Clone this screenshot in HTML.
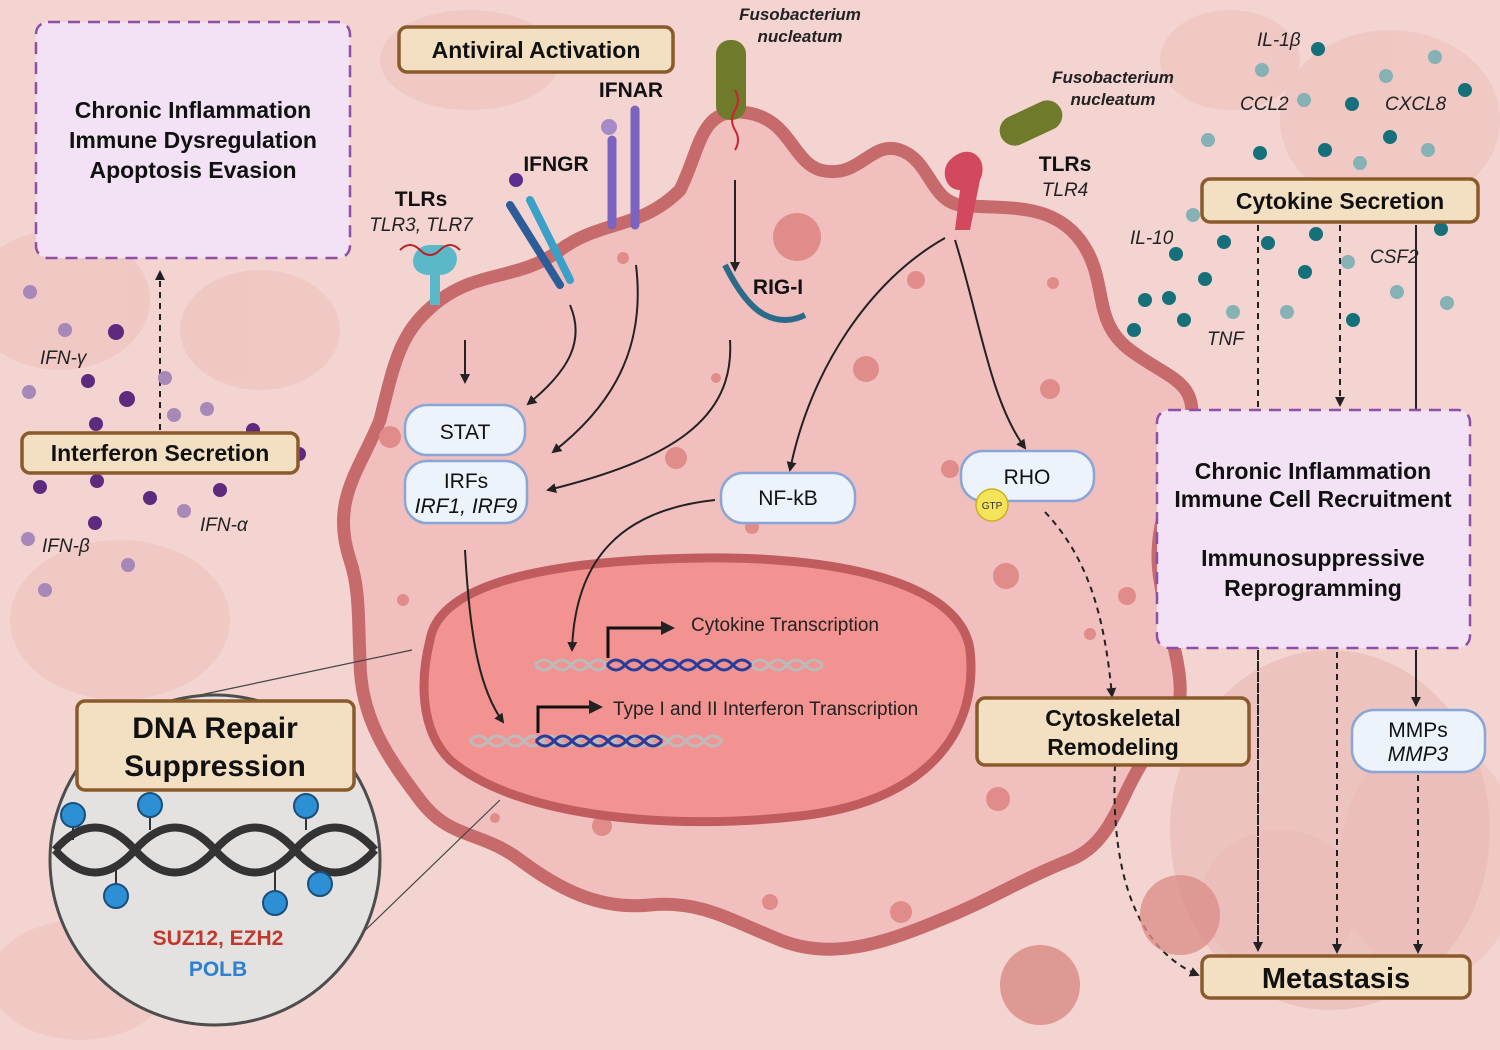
<!DOCTYPE html>
<html><head><meta charset="utf-8"><style>
html,body{margin:0;padding:0;width:1500px;height:1050px;overflow:hidden;background:#f3d6d2}
svg{display:block}
text{font-family:"Liberation Sans",Arial,sans-serif}
</style></head><body>
<svg width="1500" height="1050" viewBox="0 0 1500 1050" xmlns="http://www.w3.org/2000/svg">
<defs>
<marker id="ah" markerWidth="10" markerHeight="10" refX="8" refY="5" orient="auto" markerUnits="userSpaceOnUse"><path d="M0,0 L10,5 L0,10 z" fill="#222"/></marker>
<marker id="ah2" markerWidth="14" markerHeight="14" refX="11" refY="7" orient="auto" markerUnits="userSpaceOnUse"><path d="M0,0 L14,7 L0,14 z" fill="#222"/></marker>
</defs>
<!-- background texture -->
<rect width="1500" height="1050" fill="#f3d4d0"/>
<g fill="#eec4c0" opacity="0.7">
<ellipse cx="120" cy="620" rx="110" ry="80"/><ellipse cx="60" cy="300" rx="90" ry="70"/><ellipse cx="260" cy="330" rx="80" ry="60"/>
<ellipse cx="1390" cy="120" rx="110" ry="90"/><ellipse cx="1430" cy="860" rx="90" ry="120"/><ellipse cx="1280" cy="900" rx="80" ry="70"/>
<ellipse cx="1230" cy="60" rx="70" ry="50"/><ellipse cx="80" cy="980" rx="90" ry="60"/><ellipse cx="470" cy="60" rx="90" ry="50"/>
</g>
<ellipse cx="1330" cy="830" rx="160" ry="180" fill="#e8b8b4" opacity="0.6"/>
<!-- cell -->
<path d="M350,560 C330,500 360,470 380,420 C395,360 400,330 440,300 C480,270 520,280 560,250 C600,220 640,230 680,190 C700,150 700,110 740,112 C790,115 790,160 820,170 C860,180 870,140 900,150 C930,160 930,200 960,205 C1000,210 1050,200 1080,240 C1110,280 1090,320 1130,350 C1170,380 1200,380 1190,430 C1180,480 1150,520 1160,580 C1170,650 1200,700 1160,740 C1120,780 1120,840 1070,860 C1020,880 990,900 940,920 C880,945 830,960 780,940 C730,920 700,900 650,905 C600,910 560,890 520,860 C480,830 450,840 420,800 C390,760 360,720 360,660 C358,620 360,590 350,560 Z" fill="#f0bfbe" stroke="#c76a6c" stroke-width="13"/>
<!-- vesicles -->
<g fill="#e08c8a">
<circle cx="797" cy="237" r="24"/><circle cx="916" cy="280" r="9"/><circle cx="866" cy="369" r="13"/><circle cx="1050" cy="389" r="10"/><circle cx="1053" cy="283" r="6"/>
<circle cx="390" cy="437" r="11"/><circle cx="676" cy="458" r="11"/><circle cx="716" cy="378" r="5"/><circle cx="623" cy="258" r="6"/>
<circle cx="950" cy="469" r="9"/><circle cx="1006" cy="576" r="13"/><circle cx="1127" cy="596" r="9"/><circle cx="1090" cy="634" r="6"/>
<circle cx="998" cy="799" r="12"/><circle cx="901" cy="912" r="11"/><circle cx="770" cy="902" r="8"/><circle cx="602" cy="826" r="10"/><circle cx="403" cy="600" r="6"/><circle cx="495" cy="818" r="5"/><circle cx="752" cy="527" r="7"/>
</g>
<!-- nucleus -->
<path d="M430,640 C440,580 560,560 700,558 C830,556 960,580 970,650 C978,720 940,800 800,816 C680,830 520,820 450,760 C420,730 420,680 430,640 Z" fill="#f29391" stroke="#c05c5e" stroke-width="9"/>
<!-- DNA strands in nucleus -->
<g stroke-width="3" fill="none">
<path d="M535,665 q9,-10 18,0 t18,0 t18,0 t18,0 t18,0 t18,0 t18,0 t18,0 t18,0 t18,0 t18,0 t18,0 t18,0 t18,0 t18,0 t18,0" stroke="#bbb"/>
<path d="M535,665 q9,10 18,0 t18,0 t18,0 t18,0 t18,0 t18,0 t18,0 t18,0 t18,0 t18,0 t18,0 t18,0 t18,0 t18,0 t18,0 t18,0" stroke="#bbb"/>
<path d="M607,665 q9,-10 18,0 t18,0 t18,0 t18,0 t18,0 t18,0 t18,0 t18,0" stroke="#2a3c9a"/>
<path d="M607,665 q9,10 18,0 t18,0 t18,0 t18,0 t18,0 t18,0 t18,0 t18,0" stroke="#2a3c9a"/>
<path d="M470,741 q9,-10 18,0 t18,0 t18,0 t18,0 t18,0 t18,0 t18,0 t18,0 t18,0 t18,0 t18,0 t18,0 t18,0 t18,0" stroke="#bbb"/>
<path d="M470,741 q9,10 18,0 t18,0 t18,0 t18,0 t18,0 t18,0 t18,0 t18,0 t18,0 t18,0 t18,0 t18,0 t18,0 t18,0" stroke="#bbb"/>
<path d="M536,741 q9,-10 18,0 t18,0 t18,0 t18,0 t18,0 t18,0 t18,0" stroke="#2a3c9a"/>
<path d="M536,741 q9,10 18,0 t18,0 t18,0 t18,0 t18,0 t18,0 t18,0" stroke="#2a3c9a"/>
</g>
<path d="M608,658 V628 H672" stroke="#111" stroke-width="3" fill="none" marker-end="url(#ah2)"/>
<path d="M538,733 V707 H600" stroke="#111" stroke-width="3" fill="none" marker-end="url(#ah2)"/>
<text x="691" y="631" font-size="19" fill="#222">Cytokine Transcription</text>
<text x="613" y="715" font-size="19" fill="#222">Type I and II Interferon Transcription</text>
<!-- receptors -->
<g>
<rect x="716" y="40" width="30" height="80" rx="14" fill="#6f7a2a"/>
<rect x="998" y="108" width="66" height="30" rx="15" fill="#6f7a2a" transform="rotate(-25 1031 123)"/>
<path d="M735,90 q6,10 0,20 t0,20 t0,20" stroke="#c23" stroke-width="2" fill="none"/>
<path d="M430,245 c-20,0 -25,30 0,30 v30 h10 v-30 c20,0 25,-30 0,-30z" fill="#5bb8c8"/>
<path d="M400,250 q10,-10 20,0 t20,0 t20,0" stroke="#b22" stroke-width="2" fill="none"/>
<g stroke-width="8" stroke-linecap="round"><path d="M510,205 L560,285" stroke="#2d5d99"/><path d="M530,200 L570,280" stroke="#3aa0c7"/></g>
<g stroke-width="9" stroke-linecap="round" stroke="#7b63c0"><path d="M612,140 V225"/><path d="M635,110 V225"/></g>
<circle cx="516" cy="180" r="7" fill="#5b2d8e"/><circle cx="609" cy="127" r="8" fill="#a68ac8"/>
<path d="M950,160 c20,-20 40,0 30,20 l-10,50 h-15 l5,-40 c-15,0 -20,-20 -10,-30z" fill="#d2485e"/>
<path d="M725,265 q20,40 40,50 q20,10 40,0" stroke="#2c6a8a" stroke-width="6" fill="none"/>
</g>
<!-- arrows inside cell -->
<g stroke="#222" stroke-width="2" fill="none">
<path d="M465,340 V382" marker-end="url(#ah)"/>
<path d="M570,305 C585,340 570,370 528,404" marker-end="url(#ah)"/>
<path d="M636,265 C645,340 620,400 553,452" marker-end="url(#ah)"/>
<path d="M730,340 C735,420 670,460 548,490" marker-end="url(#ah)"/>
<path d="M735,180 V270" marker-end="url(#ah)"/>
<path d="M945,238 C870,280 810,370 790,470" marker-end="url(#ah)"/>
<path d="M955,240 C980,320 990,400 1025,448" marker-end="url(#ah)"/>
<path d="M715,500 C620,510 575,560 572,650" marker-end="url(#ah)"/>
<path d="M465,550 C470,640 480,690 503,722" marker-end="url(#ah)"/>
<path d="M1045,512 C1090,560 1105,620 1112,696" stroke-dasharray="6,5" marker-end="url(#ah)"/>
<path d="M1115,765 C1110,880 1140,950 1198,975" stroke-dasharray="6,5" marker-end="url(#ah)"/>
<path d="M160,430 V272" stroke-dasharray="6,5" marker-end="url(#ah)"/>
<path d="M1258,225 V950" stroke-dasharray="6,5" marker-end="url(#ah)"/>
<path d="M1340,225 V405" stroke-dasharray="6,5" marker-end="url(#ah)"/>
<path d="M1416,225 V410"/>
<path d="M1258,650 V950" stroke-dasharray="6,5"/>
<path d="M1337,652 V952" stroke-dasharray="6,5" marker-end="url(#ah)"/>
<path d="M1416,650 V705" marker-end="url(#ah)"/>
<path d="M1418,775 V952" stroke-dasharray="6,5" marker-end="url(#ah)"/>
</g>
<!-- cytokine dots left -->
<g fill="#5e2a7e">
<circle cx="116" cy="332" r="8"/><circle cx="88" cy="381" r="7"/><circle cx="127" cy="399" r="8"/><circle cx="96" cy="424" r="7"/><circle cx="253" cy="430" r="7"/>
<circle cx="40" cy="487" r="7"/><circle cx="97" cy="481" r="7"/><circle cx="150" cy="498" r="7"/><circle cx="220" cy="490" r="7"/><circle cx="95" cy="523" r="7"/><circle cx="299" cy="454" r="7"/>
</g>
<g fill="#a788b8">
<circle cx="30" cy="292" r="7"/><circle cx="65" cy="330" r="7"/><circle cx="29" cy="392" r="7"/><circle cx="165" cy="378" r="7"/><circle cx="174" cy="415" r="7"/><circle cx="207" cy="409" r="7"/>
<circle cx="28" cy="539" r="7"/><circle cx="184" cy="511" r="7"/><circle cx="128" cy="565" r="7"/><circle cx="45" cy="590" r="7"/>
</g>
<!-- teal dots right -->
<g fill="#15707a">
<circle cx="1318" cy="49" r="7"/><circle cx="1465" cy="90" r="7"/><circle cx="1352" cy="104" r="7"/><circle cx="1390" cy="137" r="7"/><circle cx="1325" cy="150" r="7"/><circle cx="1260" cy="153" r="7"/>
<circle cx="1224" cy="242" r="7"/><circle cx="1268" cy="243" r="7"/><circle cx="1176" cy="254" r="7"/><circle cx="1205" cy="279" r="7"/><circle cx="1305" cy="272" r="7"/><circle cx="1145" cy="300" r="7"/>
<circle cx="1169" cy="298" r="7"/><circle cx="1184" cy="320" r="7"/><circle cx="1134" cy="330" r="7"/><circle cx="1353" cy="320" r="7"/><circle cx="1316" cy="234" r="7"/><circle cx="1441" cy="229" r="7"/>
</g>
<g fill="#86b1b5">
<circle cx="1435" cy="57" r="7"/><circle cx="1262" cy="70" r="7"/><circle cx="1386" cy="76" r="7"/><circle cx="1304" cy="100" r="7"/><circle cx="1208" cy="140" r="7"/><circle cx="1428" cy="150" r="7"/>
<circle cx="1360" cy="163" r="7"/><circle cx="1193" cy="215" r="7"/><circle cx="1348" cy="262" r="7"/><circle cx="1397" cy="292" r="7"/><circle cx="1447" cy="303" r="7"/><circle cx="1287" cy="312" r="7"/><circle cx="1233" cy="312" r="7"/>
</g>
<!-- circle inset -->
<line x1="200" y1="695" x2="412" y2="650" stroke="#444" stroke-width="1.2"/>
<line x1="350" y1="945" x2="500" y2="800" stroke="#444" stroke-width="1.2"/>
<circle cx="215" cy="860" r="165" fill="#e4e1e1" stroke="#4d4d4d" stroke-width="3"/>
<g stroke="#333" stroke-width="8" fill="none">
<path d="M55,850 q40,-45 80,0 t80,0 t80,0 t80,0"/>
<path d="M55,850 q40,45 80,0 t80,0 t80,0 t80,0"/>
</g>
<g stroke="#333" stroke-width="2"><line x1="150" y1="830" x2="150" y2="805"/><line x1="73" y1="840" x2="73" y2="817"/><line x1="306" y1="830" x2="306" y2="808"/><line x1="116" y1="870" x2="116" y2="895"/><line x1="275" y1="870" x2="275" y2="902"/><line x1="320" y1="865" x2="320" y2="884"/></g>
<g fill="#2d8fd4" stroke="#1a4f7a" stroke-width="2">
<circle cx="73" cy="815" r="12"/><circle cx="150" cy="805" r="12"/><circle cx="306" cy="806" r="12"/><circle cx="116" cy="896" r="12"/><circle cx="275" cy="903" r="12"/><circle cx="320" cy="884" r="12"/>
</g>
<text x="218" y="945" font-size="21" font-weight="bold" fill="#c0392b" text-anchor="middle">SUZ12, EZH2</text>
<text x="218" y="976" font-size="21" font-weight="bold" fill="#2d7fd0" text-anchor="middle">POLB</text>
<!-- lavender dashed boxes -->
<rect x="36" y="22" width="314" height="236" rx="12" fill="#f3e2f6" stroke="#8e4fa6" stroke-width="2.5" stroke-dasharray="12,8"/>
<text font-size="23" font-weight="bold" fill="#111" text-anchor="middle"><tspan x="193" y="118">Chronic Inflammation</tspan><tspan x="193" y="148">Immune Dysregulation</tspan><tspan x="193" y="178">Apoptosis Evasion</tspan></text>
<rect x="1157" y="410" width="313" height="238" rx="12" fill="#f3e2f6" stroke="#8e4fa6" stroke-width="2.5" stroke-dasharray="12,8"/>
<text font-size="23" font-weight="bold" fill="#111" text-anchor="middle"><tspan x="1313" y="479">Chronic Inflammation</tspan><tspan x="1313" y="507">Immune Cell Recruitment</tspan><tspan x="1313" y="566">Immunosuppressive</tspan><tspan x="1313" y="596">Reprogramming</tspan></text>
<!-- tan boxes -->
<g fill="#f3e0c3" stroke="#8b5a2b" stroke-width="3.5">
<rect x="399" y="27" width="274" height="45" rx="8"/>
<rect x="22" y="433" width="276" height="40" rx="8"/>
<rect x="1202" y="179" width="276" height="43" rx="8"/>
<rect x="77" y="701" width="277" height="89" rx="8"/>
<rect x="977" y="698" width="272" height="67" rx="8"/>
<rect x="1202" y="956" width="268" height="42" rx="8"/>
</g>
<g font-weight="bold" fill="#111" text-anchor="middle">
<text x="536" y="58" font-size="23">Antiviral Activation</text>
<text x="160" y="461" font-size="23">Interferon Secretion</text>
<text x="1340" y="209" font-size="23">Cytokine Secretion</text>
<text x="215" y="738" font-size="30">DNA Repair</text>
<text x="215" y="776" font-size="30">Suppression</text>
<text x="1113" y="726" font-size="23">Cytoskeletal</text>
<text x="1113" y="755" font-size="23">Remodeling</text>
<text x="1336" y="988" font-size="29">Metastasis</text>
</g>
<!-- pill nodes -->
<g fill="#edf3fb" stroke="#8aa6d6" stroke-width="2.5">
<rect x="405" y="405" width="120" height="50" rx="22"/>
<rect x="405" y="461" width="122" height="62" rx="22"/>
<rect x="721" y="473" width="134" height="50" rx="22"/>
<rect x="961" y="451" width="133" height="50" rx="22"/>
<rect x="1352" y="710" width="133" height="62" rx="22"/>
</g>
<circle cx="992" cy="505" r="16" fill="#f5e35a" stroke="#c9b227" stroke-width="1.5"/>
<text x="992" y="509" font-size="10" text-anchor="middle" fill="#333">GTP</text>
<g font-size="21" fill="#111" text-anchor="middle">
<text x="465" y="439">STAT</text>
<text x="466" y="488">IRFs</text>
<text x="466" y="513" font-style="italic">IRF1, IRF9</text>
<text x="788" y="505">NF-kB</text>
<text x="1027" y="484">RHO</text>
<text x="1418" y="737">MMPs</text>
<text x="1418" y="761" font-style="italic">MMP3</text>
</g>
<!-- labels -->
<g font-weight="bold" fill="#111" font-size="21">
<text x="631" y="97" text-anchor="middle">IFNAR</text>
<text x="556" y="171" text-anchor="middle">IFNGR</text>
<text x="421" y="206" text-anchor="middle">TLRs</text>
<text x="1065" y="171" text-anchor="middle">TLRs</text>
<text x="778" y="294" text-anchor="middle">RIG-I</text>
</g>
<g font-style="italic" fill="#222" font-size="19">
<text x="421" y="231" text-anchor="middle">TLR3, TLR7</text>
<text x="1065" y="196" text-anchor="middle">TLR4</text>
<text x="40" y="364">IFN-γ</text>
<text x="200" y="531">IFN-α</text>
<text x="42" y="552">IFN-β</text>
<text x="1257" y="46">IL-1β</text>
<text x="1240" y="110">CCL2</text>
<text x="1385" y="110">CXCL8</text>
<text x="1130" y="244">IL-10</text>
<text x="1370" y="263">CSF2</text>
<text x="1207" y="345">TNF</text>
</g>
<g font-style="italic" font-weight="bold" fill="#222" font-size="17" text-anchor="middle">
<text x="800" y="20">Fusobacterium</text><text x="800" y="42">nucleatum</text>
<text x="1113" y="83">Fusobacterium</text><text x="1113" y="105">nucleatum</text>
</g>
<!-- small cells bottom -->
<circle cx="1180" cy="915" r="40" fill="#dc8f8a" opacity="0.8"/>
<circle cx="1040" cy="985" r="40" fill="#d98a85" opacity="0.8"/>
</svg>
</body></html>
